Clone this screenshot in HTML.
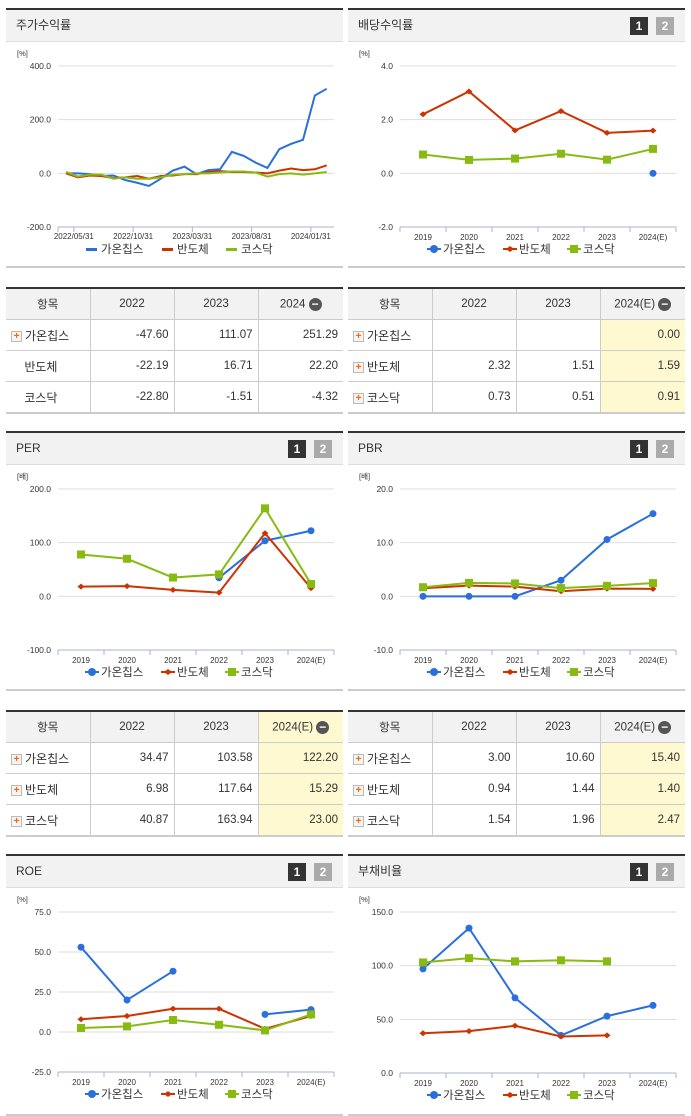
<!DOCTYPE html>
<html><head><meta charset="utf-8">
<style>
body{margin:0;width:691px;height:1115px;background:#fff;font-family:"Liberation Sans","Noto Sans CJK KR",sans-serif;position:relative;overflow:hidden}
.panel{position:absolute;width:337px;border-top:2px solid #333;border-bottom:2px solid #ccc}
.hdr{height:31px;background:#f2f2f2;border-bottom:1px solid #ddd;font-size:12px;color:#333;line-height:31px;padding-left:10px;position:relative}
.b{position:absolute;top:7px;width:18px;height:18px;color:#fff;font-size:12px;font-weight:bold;line-height:18px;text-align:center}
.b1{right:37px;background:#333}.b2{right:11px;background:#aaa}
table{position:absolute;width:337px;table-layout:fixed;border-collapse:collapse;border-top:2px solid #333;border-bottom:2px solid #ccc;font-size:11.5px;color:#333}
td,th{height:30px;border:1px solid #ccc;padding:0 5px;text-align:right;font-weight:normal;white-space:nowrap;overflow:hidden}
th{background:#f2f2f2;text-align:center}
tr td:first-child,tr th:first-child{border-left:none}
tr td:last-child,tr th:last-child{border-right:none}
td:first-child{text-align:left;font-size:12px}
.y{background:#fff9d2}
.p{display:inline-block;width:9px;height:9px;border:1px solid #bbb;background:#f4f4f4;color:#f60;font-size:10px;line-height:9px;text-align:center;font-weight:bold;vertical-align:middle;margin-right:3px}
.m{display:inline-block;width:13px;height:13px;border-radius:50%;background:#555;color:#fff;line-height:12px;font-size:12px;text-align:center;vertical-align:middle;font-weight:bold}
svg{position:absolute;left:0;top:0}
</style></head><body>
<svg id="s" width="691" height="1115"></svg>

<div class="panel" style="left:6px;top:8px;height:256px"><div class="hdr">주가수익률</div></div>
<div class="panel" style="left:348px;top:8px;height:256px"><div class="hdr">배당수익률<span class="b b1">1</span><span class="b b2">2</span></div></div>
<div class="panel" style="left:6px;top:431px;height:256px"><div class="hdr">PER<span class="b b1">1</span><span class="b b2">2</span></div></div>
<div class="panel" style="left:348px;top:431px;height:256px"><div class="hdr">PBR<span class="b b1">1</span><span class="b b2">2</span></div></div>
<div class="panel" style="left:6px;top:854px;height:258px"><div class="hdr">ROE<span class="b b1">1</span><span class="b b2">2</span></div></div>
<div class="panel" style="left:348px;top:854px;height:258px"><div class="hdr">부채비율<span class="b b1">1</span><span class="b b2">2</span></div></div>

<table style="left:6px;top:287px">
<colgroup><col style="width:84px"><col style="width:84px"><col style="width:84px"><col style="width:85px"></colgroup>
<tr><th>항목</th><th>2022</th><th>2023</th><th>2024 <span class="m">−</span></th></tr>
<tr><td><span class="p">+</span>가온칩스</td><td>-47.60</td><td>111.07</td><td>251.29</td></tr>
<tr><td>&nbsp;&nbsp;&nbsp;&nbsp;반도체</td><td>-22.19</td><td>16.71</td><td>22.20</td></tr>
<tr><td>&nbsp;&nbsp;&nbsp;&nbsp;코스닥</td><td>-22.80</td><td>-1.51</td><td>-4.32</td></tr>
</table>
<table style="left:348px;top:287px">
<colgroup><col style="width:84px"><col style="width:84px"><col style="width:84px"><col style="width:85px"></colgroup>
<tr><th>항목</th><th>2022</th><th>2023</th><th>2024(E) <span class="m">−</span></th></tr>
<tr><td><span class="p">+</span>가온칩스</td><td></td><td></td><td class="y">0.00</td></tr>
<tr><td><span class="p">+</span>반도체</td><td>2.32</td><td>1.51</td><td class="y">1.59</td></tr>
<tr><td><span class="p">+</span>코스닥</td><td>0.73</td><td>0.51</td><td class="y">0.91</td></tr>
</table>
<table style="left:6px;top:710px">
<colgroup><col style="width:84px"><col style="width:84px"><col style="width:84px"><col style="width:85px"></colgroup>
<tr><th>항목</th><th>2022</th><th>2023</th><th class="y">2024(E) <span class="m">−</span></th></tr>
<tr><td><span class="p">+</span>가온칩스</td><td>34.47</td><td>103.58</td><td class="y">122.20</td></tr>
<tr><td><span class="p">+</span>반도체</td><td>6.98</td><td>117.64</td><td class="y">15.29</td></tr>
<tr><td><span class="p">+</span>코스닥</td><td>40.87</td><td>163.94</td><td class="y">23.00</td></tr>
</table>
<table style="left:348px;top:710px">
<colgroup><col style="width:84px"><col style="width:84px"><col style="width:84px"><col style="width:85px"></colgroup>
<tr><th>항목</th><th>2022</th><th>2023</th><th>2024(E) <span class="m">−</span></th></tr>
<tr><td><span class="p">+</span>가온칩스</td><td>3.00</td><td>10.60</td><td class="y">15.40</td></tr>
<tr><td><span class="p">+</span>반도체</td><td>0.94</td><td>1.44</td><td class="y">1.40</td></tr>
<tr><td><span class="p">+</span>코스닥</td><td>1.54</td><td>1.96</td><td class="y">2.47</td></tr>
</table>

<script>
const stockDates=["2022/05/31","2022/10/31","2023/03/31","2023/08/31","2024/01/31"];
const stockChip=[0,0,-3,-10,-8,-25,-35,-47,-20,10,25,-3,12,15,80,65,40,20,90,110,125,290,315];
const stockSemi=[0,-15,-8,-10,-18,-15,-10,-20,-10,-8,-3,-3,5,8,5,5,3,0,10,18,12,15,30];
const stockKosdaq=[5,-12,-5,-5,-20,-15,-20,-20,-15,-5,-3,0,0,3,7,7,3,-12,-3,0,-5,0,5];
const years=["2019","2020","2021","2022","2023","2024(E)"];
const divChip=[null,null,null,null,null,0];
const divSemi=[2.2,3.05,1.6,2.32,1.51,1.59];
const divKosdaq=[0.7,0.5,0.55,0.73,0.51,0.91];
const perChip=[null,null,null,34.47,103.58,122.2];
const perSemi=[18,19,12,6.98,117.64,15.29];
const perKosdaq=[78,70,35,40.87,163.94,23];
const pbrChip=[0,0,0,3.0,10.6,15.4];
const pbrSemi=[1.5,2,1.8,0.94,1.44,1.4];
const pbrKosdaq=[1.7,2.5,2.4,1.54,1.96,2.47];
const roeChip=[53,20,38,null,11,14];
const roeSemi=[8,10,14.5,14.5,2,10];
const roeKosdaq=[2.5,3.5,7.5,4.5,1,11];
const debtChip=[97,135,70,35,53,63];
const debtSemi=[37,39,44,34,35,null];
const debtKosdaq=[103,107,104,105,104,null];

const NS="http://www.w3.org/2000/svg",S=document.getElementById('s');
const C={b:"#2a6fdc",r:"#cc3300",g:"#88bb11"};
function el(t,a,p){const e=document.createElementNS(NS,t);for(const k in a)e.setAttribute(k,a[k]);(p||S).appendChild(e);return e;}
function txt(x,y,s,a,p){const e=el('text',Object.assign({x:x,y:y,'font-size':8.5,fill:'#333','font-family':'Liberation Sans,Noto Sans CJK KR,sans-serif'},a||{}),p);e.textContent=s;return e;}

function chart(o){
  const g=el('g',{});
  
  
  const X0=o.x0,X1=o.x0+276;
  const yS=v=>o.yTop+(o.ticks[0]-v)*(o.yBot-o.yTop)/(o.ticks[0]-o.ticks[o.ticks.length-1]);
  txt(X0-41,o.yTop-10,o.unit,{'font-size':7.5},g);
  o.ticks.forEach((t,i)=>{
    const y=yS(t);
    if(i<o.ticks.length-1)el('line',{x1:X0,x2:X1,y1:y,y2:y,stroke:'#ddd'},g);
    txt(X0-7,y+3,t.toFixed(1),{'text-anchor':'end'},g);
  });
  el('line',{x1:X0,x2:X1,y1:o.yBot,y2:o.yBot,stroke:'#aab4c8'},g);
  let xS;
  if(o.monthly){
    const st=11.85, x0=X0+8;
    xS=i=>x0+i*st;
    el('line',{x1:X0,x2:X0,y1:o.yBot,y2:o.yBot+5,stroke:'#aab4c8'},g);
    o.cats.forEach((c,i)=>{const x=xS(1+i*5)-4;el('line',{x1:x,x2:x,y1:o.yBot,y2:o.yBot+5,stroke:'#aab4c8'},g);txt(x,o.yBot+12,c,{'text-anchor':'middle','font-size':8},g);});
  }else{
    const st=276/6;
    xS=i=>X0+st*(i+0.5);
    for(let i=0;i<=6;i++){const x=X0+st*i;el('line',{x1:x,x2:x,y1:o.yBot,y2:o.yBot+5,stroke:'#aab4c8'},g);}
    o.cats.forEach((c,i)=>txt(xS(i),o.yBot+13,c,{'text-anchor':'middle','font-size':8},g));
  }
  o.series.forEach(s=>{
    let seg=[];const segs=[];
    s.d.forEach((v,i)=>{if(v==null){if(seg.length)segs.push(seg);seg=[];}else seg.push([xS(i),yS(v)]);});
    if(seg.length)segs.push(seg);
    segs.forEach(sg=>{if(sg.length>1){const l=el('polyline',{points:sg.map(p=>p.join(',')).join(' '),fill:'none',stroke:s.c,'stroke-width':2},g);}});
    if(!o.monthly)s.d.forEach((v,i)=>{if(v==null)return;const x=xS(i),y=yS(v);let m;
      if(s.k=='c')m=el('circle',{cx:x,cy:y,r:3.5,fill:s.c},g);
      else if(s.k=='s')m=el('rect',{x:x-4,y:y-4,width:8,height:8,fill:s.c},g);
      else m=el('path',{d:`M${x-3.5},${y}L${x},${y-3}L${x+3.5},${y}L${x},${y+3}Z`,fill:s.c},g);
      });
  });
  const ly=o.yBot+26, lx=X0+30;
  const names=["가온칩스","반도체","코스닥"];
  const offs=[0,76,140];
  o.series.forEach((s,i)=>{
    const x=lx+offs[i];
    const lg=el('g',{},g);
    if(o.monthly)el('rect',{x:x-2,y:ly-5,width:11,height:3,fill:s.c},lg);
    else{el('line',{x1:x-3,x2:x+11,y1:ly-4,y2:ly-4,stroke:s.c,'stroke-width':2},lg);
      if(s.k=='c')el('circle',{cx:x+4,cy:ly-4,r:4,fill:s.c},lg);
      else if(s.k=='s')el('rect',{x:x,y:ly-8,width:8,height:8,fill:s.c},lg);
      else el('path',{d:`M${x},${ly-4}L${x+4},${ly-7}L${x+8},${ly-4}L${x+4},${ly-1}Z`,fill:s.c},lg);}
    txt(x+13,ly,names[i],{'font-size':11.5},lg);
  });
}
const mk=(a,b,c)=>[{n:'gaonchips',c:C.b,k:'c',d:a},{n:'semiconductor',c:C.r,k:'d',d:b},{n:'kosdaq',c:C.g,k:'s',d:c}];
chart({name:'stock-return-chart',x0:58,yTop:66,yBot:227,ticks:[400,200,0,-200],unit:'[%]',cats:stockDates,monthly:true,series:mk(stockChip,stockSemi,stockKosdaq)});
chart({name:'dividend-chart',x0:400,yTop:66,yBot:227,ticks:[4,2,0,-2],unit:'[%]',cats:years,series:mk(divChip,divSemi,divKosdaq)});
chart({name:'per-chart',x0:58,yTop:489,yBot:650,ticks:[200,100,0,-100],unit:'[배]',cats:years,series:mk(perChip,perSemi,perKosdaq)});
chart({name:'pbr-chart',x0:400,yTop:489,yBot:650,ticks:[20,10,0,-10],unit:'[배]',cats:years,series:mk(pbrChip,pbrSemi,pbrKosdaq)});
chart({name:'roe-chart',x0:58,yTop:912,yBot:1072,ticks:[75,50,25,0,-25],unit:'[%]',cats:years,series:mk(roeChip,roeSemi,roeKosdaq)});
chart({name:'debt-ratio-chart',x0:400,yTop:912,yBot:1073,ticks:[150,100,50,0],unit:'[%]',cats:years,series:mk(debtChip,debtSemi,debtKosdaq)});
</script>
</body></html>
